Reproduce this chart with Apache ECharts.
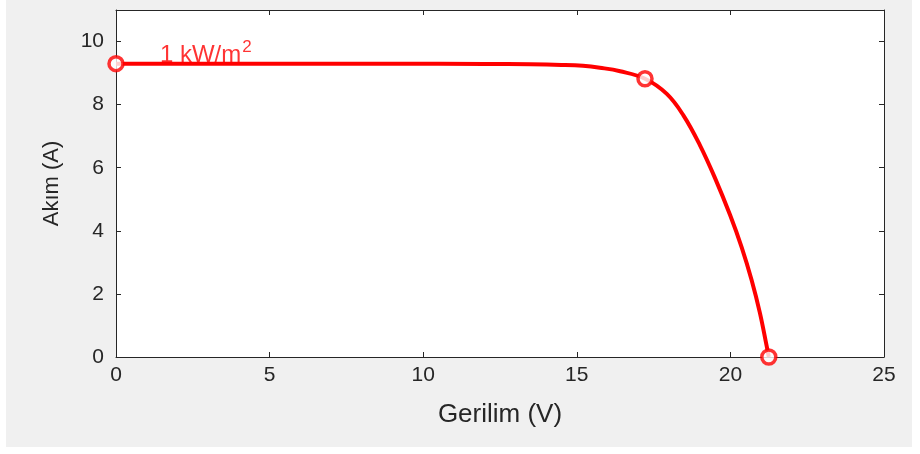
<!DOCTYPE html>
<html>
<head>
<meta charset="utf-8">
<script src="https://cdn.jsdelivr.net/npm/echarts@6/dist/echarts.min.js"></script>
<style>
  html, body { margin: 0; padding: 0; background: #ffffff; }
  #chart { width: 920px; height: 454px; }
</style>
</head>
<body>
<div id="chart"></div>
<script>
// I-V curve of a PV module at 1 kW/m² irradiance
const voltage = [0, 3, 6, 9, 12, 13.5, 14.5, 15.2, 15.75, 16.41, 17.22, 17.93, 18.47, 19.01, 19.5, 19.99, 20.37, 20.69, 20.96, 21.18, 21.25];
const current = [9.30, 9.30, 9.30, 9.30, 9.29, 9.28, 9.26, 9.23, 9.17, 9.06, 8.82, 8.34, 7.66, 6.71, 5.67, 4.50, 3.47, 2.44, 1.40, 0.35, 0];

// Short-circuit, maximum-power and open-circuit points
const keyVoltage = [0, 17.22, 21.25];
const keyCurrent = [9.30, 8.82, 0];

const irradianceLabel = { v: 1.43, i: 9.57, text: '1 kW/m', sup: '2' };

const xTicks = { min: 0, max: 25, step: 5 };
const yTicks = { min: 0, max: 11, step: 2 };

const axisColor = '#262626';
const font = 'Liberation Sans, Arial, Helvetica, sans-serif';

const curve = voltage.map((v, k) => [v, current[k]]);
const keyPoints = keyVoltage.map((v, k) => [v, keyCurrent[k]]);

const chart = echarts.init(document.getElementById('chart'), null, { renderer: 'canvas' });

const baseX = {
  type: 'value', min: xTicks.min, max: xTicks.max, interval: xTicks.step,
  splitLine: { show: false },
  axisLine: { show: true, onZero: false, lineStyle: { color: axisColor, width: 1 } },
  axisTick: { show: true, inside: true, length: 5, lineStyle: { color: axisColor } }
};
const baseY = {
  type: 'value', min: yTicks.min, max: yTicks.max, interval: yTicks.step,
  splitLine: { show: false },
  axisLine: { show: true, onZero: false, lineStyle: { color: axisColor, width: 1 } },
  axisTick: { show: true, inside: true, length: 5, lineStyle: { color: axisColor } }
};

chart.setOption({
  backgroundColor: '#ffffff',
  animation: false,
  graphic: [{
    type: 'rect', z: -10, silent: true,
    shape: { x: 6, y: 0, width: 906, height: 447 },
    style: { fill: '#f0f0f0' }
  }],
  grid: {
    left: 116, right: 36, top: 10, bottom: 97,
    show: true, backgroundColor: '#ffffff', borderColor: axisColor, borderWidth: 0
  },
  xAxis: [
    Object.assign({}, baseX, {
      position: 'bottom',
      name: 'Gerilim (V)', nameLocation: 'middle', nameGap: 45,
      nameTextStyle: { color: axisColor, fontSize: 26, fontFamily: font },
      axisLabel: { color: axisColor, fontSize: 21, fontFamily: font, margin: 8 }
    }),
    Object.assign({}, baseX, { position: 'top', axisLabel: { show: false } })
  ],
  yAxis: [
    Object.assign({}, baseY, {
      position: 'left',
      name: 'Akım (A)', nameLocation: 'middle', nameGap: 53,
      nameTextStyle: { color: axisColor, fontSize: 22, fontFamily: font },
      axisLabel: { color: axisColor, fontSize: 21, fontFamily: font, margin: 12, showMaxLabel: false }
    }),
    Object.assign({}, baseY, { position: 'right', axisLabel: { show: false } })
  ],
  series: [
    {
      type: 'line',
      data: curve,
      smooth: 0.4,
      showSymbol: false,
      lineStyle: { color: '#ff0000', width: 4 },
      z: 3
    },
    {
      type: 'scatter',
      data: keyPoints,
      symbol: 'circle',
      symbolSize: 14,
      itemStyle: { color: '#ffffff', borderColor: '#ff0000', borderWidth: 3.5 },
      z: 4
    },
    {
      type: 'scatter',
      data: [[irradianceLabel.v, irradianceLabel.i]],
      symbolSize: 0,
      silent: true,
      label: {
        show: true,
        position: 'right',
        distance: 0,
        formatter: '{a|' + irradianceLabel.text + '}{s|' + irradianceLabel.sup + '}',
        rich: {
          a: { color: '#ff0000', fontSize: 24, fontFamily: font },
          s: { color: '#ff0000', fontSize: 17, fontFamily: font, padding: [0, 0, 15, 1] }
        }
      },
      z: 5
    }
  ]
});
</script>
</body>
</html>
